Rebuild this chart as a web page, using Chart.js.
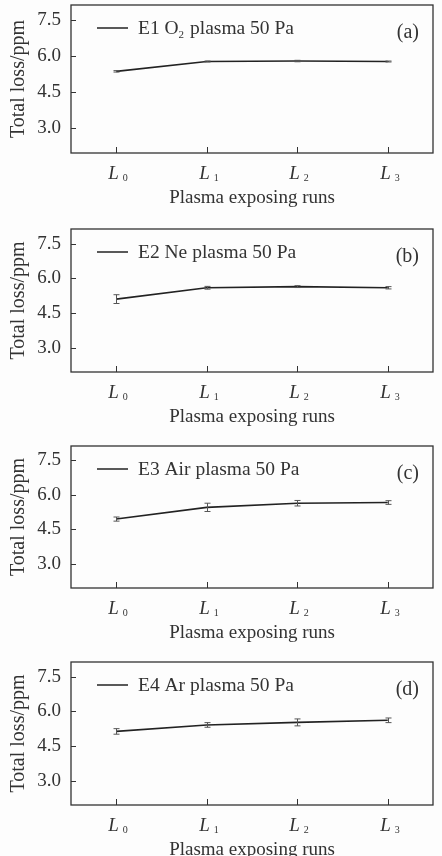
<!DOCTYPE html>
<html>
<head>
<meta charset="utf-8">
<script src="https://cdn.jsdelivr.net/npm/chart.js@4.4.1/dist/chart.umd.min.js"></script>
<style>
  html, body { margin: 0; padding: 0; background: #fdfdfd; overflow: hidden; }
  body { width: 442px; height: 856px; position: relative; }
  .panel { position: absolute; left: 0; width: 442px; }
</style>
</head>
<body>
<div id="panels"></div>
<script>
// data
const runs = ["L0", "L1", "L2", "L3"];
const runSubs = ["0", "1", "2", "3"];
const yTicks = [3.0, 4.5, 6.0, 7.5];

const e1Loss = [5.36, 5.77, 5.79, 5.77];
const e1Err = [0.03, 0.02, 0.03, 0.02];
const e2Loss = [5.10, 5.59, 5.64, 5.59];
const e2Err = [0.19, 0.06, 0.04, 0.05];
const e3Loss = [4.95, 5.46, 5.64, 5.67];
const e3Err = [0.09, 0.18, 0.12, 0.08];
const e4Loss = [5.13, 5.41, 5.52, 5.61];
const e4Err = [0.12, 0.10, 0.15, 0.10];

const seriesNames = ["E1 O_2 plasma 50 Pa", "E2 Ne plasma 50 Pa", "E3 Air plasma 50 Pa", "E4 Ar plasma 50 Pa"];
const panelTags = ["(a)", "(b)", "(c)", "(d)"];

// layout of each panel box on the page
const boxes = [
  { top: 5, bottom: 153 },
  { top: 229, bottom: 372 },
  { top: 446, bottom: 588 },
  { top: 662, bottom: 805 },
];

const SERIF = "'Liberation Serif', 'Times New Roman', serif";
const INK = "#333";
const AXIS_H = 58;

const framePlugin = {
  id: "frame",
  afterDatasetsDraw(chart, args, opts) {
    const { ctx, chartArea: a, scales: { x, y } } = chart;
    ctx.save();

    // error bars
    ctx.strokeStyle = "#555";
    ctx.lineWidth = 1;
    opts.values.forEach((v, i) => {
      const px = Math.round(x.getPixelForValue(i)) + 0.5;
      const top = y.getPixelForValue(v + opts.errors[i]);
      const bot = y.getPixelForValue(v - opts.errors[i]);
      ctx.beginPath();
      ctx.moveTo(px, top); ctx.lineTo(px, bot);
      ctx.moveTo(px - 3, top); ctx.lineTo(px + 3, top);
      ctx.moveTo(px - 3, bot); ctx.lineTo(px + 3, bot);
      ctx.stroke();
    });

    // box
    ctx.strokeStyle = INK;
    ctx.lineWidth = 1.3;
    ctx.strokeRect(a.left, a.top, a.right - a.left, a.bottom - a.top);

    // inward y ticks
    ctx.lineWidth = 1;
    yTicks.forEach((t) => {
      const py = Math.round(y.getPixelForValue(t)) + 0.5;
      ctx.beginPath();
      ctx.moveTo(a.left, py); ctx.lineTo(a.left + 5, py);
      ctx.stroke();
    });

    // inward x ticks + italic labels with subscript
    ctx.fillStyle = INK;
    runs.forEach((r, i) => {
      const px = Math.round(x.getPixelForValue(i)) + 0.5;
      ctx.beginPath();
      ctx.moveTo(px, a.bottom); ctx.lineTo(px, a.bottom - 6);
      ctx.stroke();
      ctx.textBaseline = "alphabetic";
      ctx.textAlign = "left";
      ctx.font = "italic 19px " + SERIF;
      const w = ctx.measureText(r[0]).width;
      ctx.fillText(r[0], px - w / 2 - 3, a.bottom + 26);
      ctx.font = "10px " + SERIF;
      ctx.fillText(runSubs[i], px + w / 2 + 1, a.bottom + 28);
    });

    // legend line + text (with subscript)
    const ly = a.top + 23;
    ctx.strokeStyle = "#222";
    ctx.lineWidth = 1.5;
    ctx.beginPath();
    ctx.moveTo(a.left + 26, ly); ctx.lineTo(a.left + 57, ly);
    ctx.stroke();
    let tx = a.left + 67;
    const parts = opts.name.split(/(_\d)/);
    parts.forEach((p) => {
      if (!p) return;
      if (p[0] === "_") {
        ctx.font = "11px " + SERIF;
        ctx.fillText(p.slice(1), tx, ly + 10);
        tx += ctx.measureText(p.slice(1)).width + 1;
      } else {
        ctx.font = "19.5px " + SERIF;
        ctx.fillText(p, tx, ly + 6);
        tx += ctx.measureText(p).width;
      }
    });

    // panel tag
    ctx.font = "20px " + SERIF;
    ctx.textAlign = "right";
    ctx.fillText(opts.tag, a.right - 14, a.top + 33);
    ctx.restore();
  },
};

function makePanel(idx, values, errors) {
  const box = boxes[idx];
  const div = document.createElement("div");
  div.className = "panel";
  div.style.top = (box.top - 5) + "px";
  const h = box.bottom - box.top + 5 + AXIS_H;
  div.style.height = h + "px";
  const canvas = document.createElement("canvas");
  div.appendChild(canvas);
  document.getElementById("panels").appendChild(div);

  new Chart(canvas, {
    type: "line",
    data: {
      labels: runs,
      datasets: [{
        label: seriesNames[idx],
        data: values,
        borderColor: "#222",
        borderWidth: 1.6,
        pointRadius: 0,
        tension: 0,
      }],
    },
    options: {
      responsive: true,
      maintainAspectRatio: false,
      animation: false,
      layout: { padding: { top: 5, right: 9, left: 0, bottom: 0 } },
      plugins: {
        legend: { display: false },
        tooltip: { enabled: false },
        frame: { values, errors, name: seriesNames[idx], tag: panelTags[idx] },
      },
      scales: {
        x: {
          type: "category",
          offset: true,
          grid: { display: false, drawTicks: false },
          border: { display: false },
          ticks: { display: false },
          title: {
            display: true,
            text: "Plasma exposing runs",
            color: INK,
            font: { family: SERIF, size: 19 },
            padding: { top: 0, bottom: 2 },
          },
          afterFit: (s) => { s.height = AXIS_H; s.paddingLeft = 0; s.paddingRight = 0; },
        },
        y: {
          min: 1.95,
          max: 8.13,
          grid: { display: false, drawTicks: false },
          border: { display: false },
          afterBuildTicks: (s) => { s.ticks = yTicks.map((v) => ({ value: v })); },
          ticks: {
            color: INK,
            padding: 10,
            font: { family: SERIF, size: 19 },
            callback: (v) => v.toFixed(1),
          },
          title: {
            display: true,
            text: "Total loss/ppm",
            color: INK,
            font: { family: SERIF, size: 20 },
            padding: { top: 7, bottom: 0 },
          },
          afterFit: (s) => { s.width = 71; s.paddingTop = 0; s.paddingBottom = 0; },
        },
      },
    },
    plugins: [framePlugin],
  });
}

makePanel(0, e1Loss, e1Err);
makePanel(1, e2Loss, e2Err);
makePanel(2, e3Loss, e3Err);
makePanel(3, e4Loss, e4Err);
</script>
</body>
</html>
